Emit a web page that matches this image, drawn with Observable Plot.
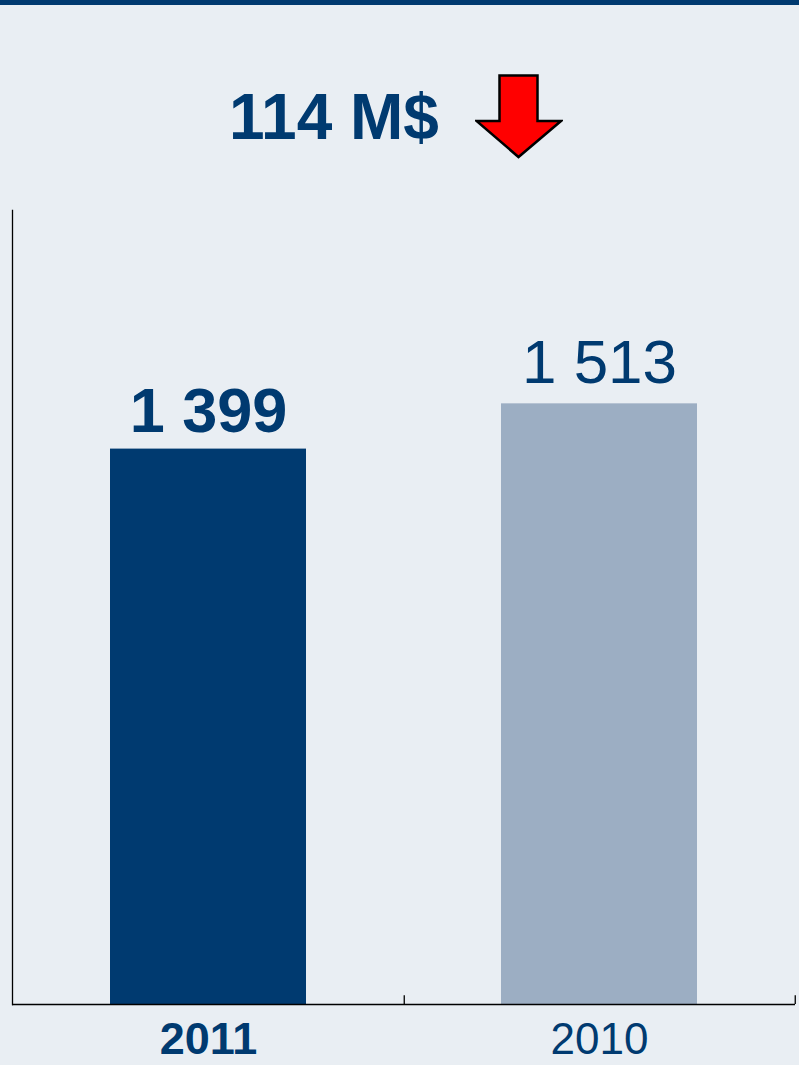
<!DOCTYPE html>
<html>
<head>
<meta charset="utf-8">
<script src="https://cdn.jsdelivr.net/npm/d3@7"></script>
<script src="https://cdn.jsdelivr.net/npm/@observablehq/plot@0.6"></script>
<style>
  html, body { margin: 0; padding: 0; background: #e9eef3; }
  body { width: 799px; height: 1065px; position: relative; overflow: hidden; font-family: "Liberation Sans", Arial, sans-serif; }
  #topbar { position: absolute; left: 0; top: 0; width: 799px; height: 5px; background: #003a70; }
  #title { position: absolute; left: 229px; top: 117px; font-size: 64px; font-weight: bold; color: #003a70; line-height: 0; white-space: nowrap; }
  #arrow { position: absolute; left: 475px; top: 74px; }
  #chart { position: absolute; left: 0; top: 190px; }
</style>
</head>
<body>
<div id="topbar"></div>
<div id="title">114 M$</div>
<svg id="arrow" width="88" height="86" viewBox="0 0 88 86">
  <polygon points="24.5,1.5 62.5,1.5 62.5,47 86,47 43.5,83 1.5,47 24.5,47" fill="#ff0000" stroke="#000" stroke-width="2.5" stroke-linejoin="miter"/>
</svg>
<div id="chart"></div>
<script>
const years = ["2011", "2010"];
const values = [1399, 1513];
const labels = ["1 399", "1 513"];
const colors = ["#003a70", "#9caec3"];
const yMax = 2000;

const data = years.map((y, i) => ({year: y, value: values[i], label: labels[i], color: colors[i]}));

const W = 799, H = 875;
const mL = 12, mR = 4, mT = 20, mB = 61;
const step = (W - mL - mR) / years.length;

const chart = Plot.plot({
  width: W,
  height: H,
  marginLeft: mL,
  marginRight: mR,
  marginTop: mT,
  marginBottom: mB,
  style: {background: "transparent", fontFamily: "Liberation Sans, Arial, sans-serif"},
  x: {domain: years, paddingInner: 0.5, paddingOuter: 0.25, axis: null},
  y: {domain: [0, yMax], axis: null},
  marks: [
    Plot.barY(data, {x: "year", y: "value", fill: "color"}),
    Plot.frame({anchor: "left", stroke: "#000", strokeWidth: 1.3}),
    Plot.ruleY([0], {stroke: "#000", strokeWidth: 1.5}),
    Plot.ruleX(years, {x: d => d, dx: step / 2, y1: 0, y2: 22, stroke: "#000", strokeWidth: 1.3}),
    Plot.text(data.filter(d => d.year === "2011"), {x: "year", y: "value", text: "label", lineAnchor: "bottom", dy: -17, fontSize: 63, fontWeight: "bold", fill: "#003a70"}),
    Plot.text(data.filter(d => d.year === "2010"), {x: "year", y: "value", text: "label", lineAnchor: "bottom", dy: -21, fontSize: 62, fill: "#003a70"}),
    Plot.text(data.filter(d => d.year === "2011"), {x: "year", y: 0, text: "year", lineAnchor: "top", dy: 18, fontSize: 45, fontWeight: "bold", fill: "#003a70"}),
    Plot.text(data.filter(d => d.year === "2010"), {x: "year", y: 0, text: "year", lineAnchor: "top", dy: 18, fontSize: 44, fill: "#003a70"})
  ]
});
document.getElementById("chart").appendChild(chart);
</script>
</body>
</html>
